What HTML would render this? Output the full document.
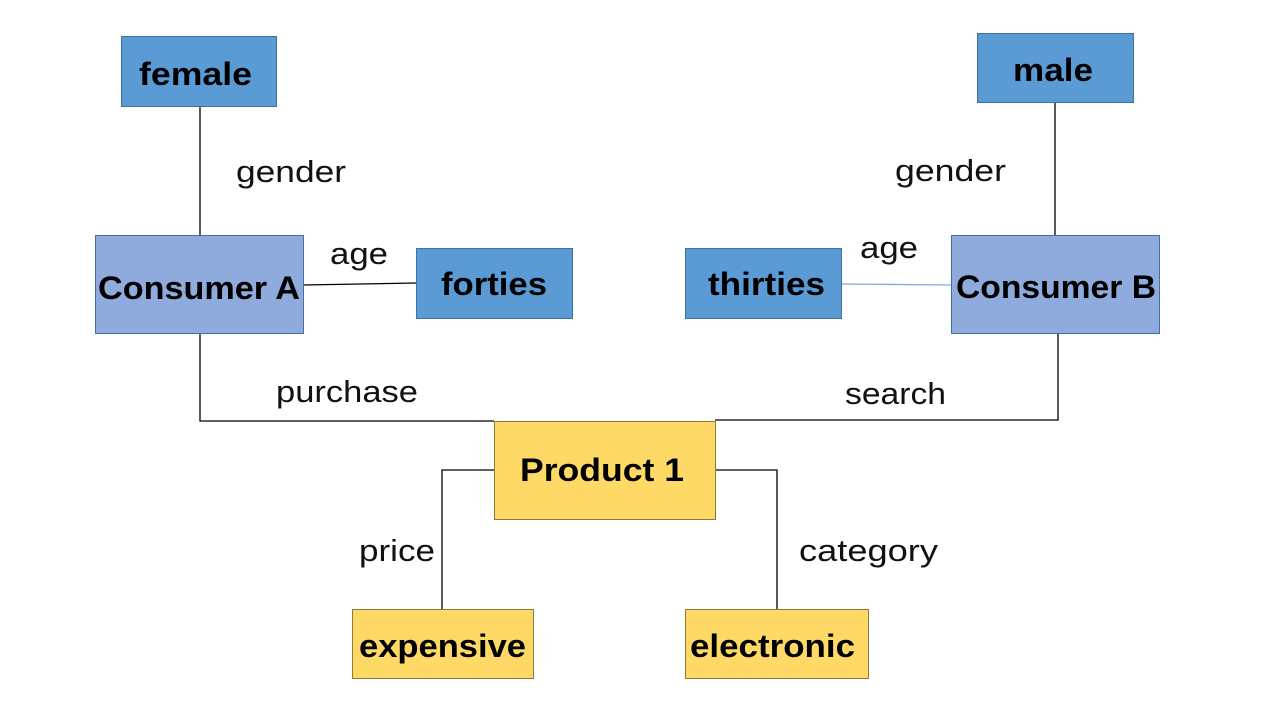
<!DOCTYPE html>
<html><head><style>
html,body{margin:0;padding:0;background:#fff;}
svg{display:block;}
text{font-family:"Liberation Sans","DejaVu Sans",sans-serif;}
.b{font-weight:bold;font-size:32px;fill:#000;}
.l{font-size:31px;fill:#111;}
</style></head><body>
<svg width="1280" height="720" viewBox="0 0 1280 720">
<g stroke="#000" stroke-width="1.3" fill="none">
<line x1="200" y1="106" x2="200" y2="235"/>
<line x1="1055" y1="102" x2="1055" y2="235"/>
<line x1="303" y1="285" x2="416" y2="283"/>
<polyline points="200,333 200,421 494,421"/>
<polyline points="1058,333 1058,420 715,420"/>
<polyline points="494,470 442,470 442,609"/>
<polyline points="715,470 777,470 777,609"/>
</g>
<line x1="841" y1="284" x2="951" y2="285" stroke="#7aaee0" stroke-width="1.3"/>
<g stroke="#41719c" stroke-width="1">
<rect x="121.5" y="36.5" width="155" height="70" fill="#5b9bd5"/>
<rect x="977.5" y="33.5" width="156" height="69" fill="#5b9bd5"/>
<rect x="95.5" y="235.5" width="208" height="98" fill="#8faadc"/>
<rect x="416.5" y="248.5" width="156" height="70" fill="#5b9bd5"/>
<rect x="685.5" y="248.5" width="156" height="70" fill="#5b9bd5"/>
<rect x="951.5" y="235.5" width="208" height="98" fill="#8faadc"/>
</g>
<g stroke="#8c7a3a" stroke-width="1" fill="#ffd966">
<rect x="494.5" y="421.5" width="221" height="98"/>
<rect x="352.5" y="609.5" width="181" height="69"/>
<rect x="685.5" y="609.5" width="183" height="69"/>
</g>
<text class="b" x="139" y="85" textLength="113" lengthAdjust="spacingAndGlyphs">female</text>
<text class="b" x="1013" y="81" textLength="80" lengthAdjust="spacingAndGlyphs">male</text>
<text class="b" x="98" y="299" textLength="202" lengthAdjust="spacingAndGlyphs">Consumer A</text>
<text class="b" x="441" y="295" textLength="106" lengthAdjust="spacingAndGlyphs">forties</text>
<text class="b" x="708" y="295" textLength="117" lengthAdjust="spacingAndGlyphs">thirties</text>
<text class="b" x="956" y="298" textLength="200" lengthAdjust="spacingAndGlyphs">Consumer B</text>
<text class="b" x="520" y="481" textLength="164" lengthAdjust="spacingAndGlyphs">Product 1</text>
<text class="b" x="359" y="657" textLength="167" lengthAdjust="spacingAndGlyphs">expensive</text>
<text class="b" x="690" y="657" textLength="165" lengthAdjust="spacingAndGlyphs">electronic</text>
<text class="l" x="236" y="182" textLength="110" lengthAdjust="spacingAndGlyphs">gender</text>
<text class="l" x="330" y="264" textLength="58" lengthAdjust="spacingAndGlyphs">age</text>
<text class="l" x="276" y="402" textLength="142" lengthAdjust="spacingAndGlyphs">purchase</text>
<text class="l" x="860" y="258" textLength="58" lengthAdjust="spacingAndGlyphs">age</text>
<text class="l" x="895" y="181" textLength="111" lengthAdjust="spacingAndGlyphs">gender</text>
<text class="l" x="845" y="404" textLength="101" lengthAdjust="spacingAndGlyphs">search</text>
<text class="l" x="359" y="561" textLength="76" lengthAdjust="spacingAndGlyphs">price</text>
<text class="l" x="799" y="561" textLength="139" lengthAdjust="spacingAndGlyphs">category</text>
</svg>
</body></html>
